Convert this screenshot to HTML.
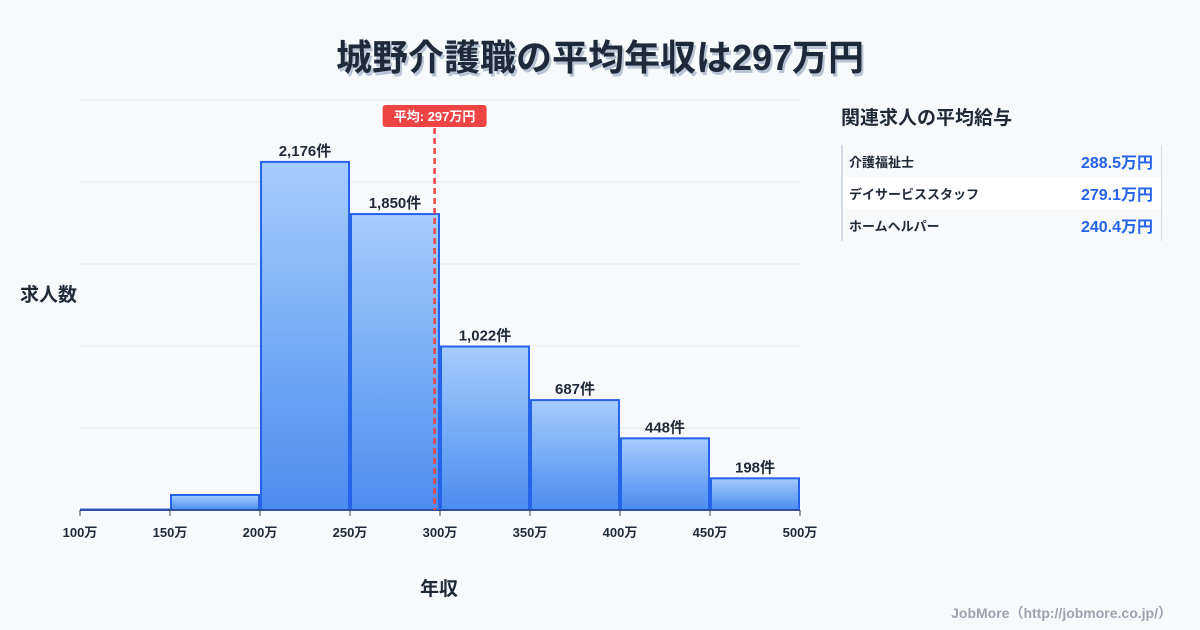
<!DOCTYPE html>
<html><head><meta charset="utf-8">
<style>
body{margin:0;width:1200px;height:630px;background:#f8f9fb;font-family:"Liberation Sans","Noto Sans CJK JP",sans-serif;overflow:hidden;position:relative;color:#1f2937}
.t{position:absolute;font-weight:bold}
</style></head><body>
<div class="t" style="left:0;width:1200px;top:29px;text-align:center;font-size:36px;color:#1e293b;text-shadow:2px 3px 0 #b8c4d6">城野介護職の平均年収は297万円</div>
<div class="t" style="left:20px;top:280px;font-size:19px">求人数</div>
<div class="t" style="left:420px;top:574px;font-size:19px">年収</div>
<svg id="c" width="1200" height="630" style="position:absolute;left:0;top:0">
<defs><linearGradient id="g" x1="0" y1="0" x2="0" y2="1"><stop offset="0" stop-color="#a5cdfc"/><stop offset="1" stop-color="#4b8cf0"/></linearGradient></defs>
</svg>
<div class="t" style="left:841px;top:103px;font-size:19px">関連求人の平均給与</div>
<div style="position:absolute;left:841px;top:145px;width:318px;height:96px;border-left:2px solid #d4dbe5;border-right:1px solid #d4dbe5">
<div style="height:32px;display:flex;justify-content:space-between;align-items:center;padding:0 8px 0 6px;font-weight:bold;font-size:13px"><span>介護福祉士</span><span style="color:#2563eb;font-size:16px">288.5万円</span></div>
<div style="height:32px;display:flex;justify-content:space-between;align-items:center;padding:0 8px 0 6px;font-weight:bold;font-size:13px;background:#fff"><span>デイサービススタッフ</span><span style="color:#2563eb;font-size:16px">279.1万円</span></div>
<div style="height:32px;display:flex;justify-content:space-between;align-items:center;padding:0 8px 0 6px;font-weight:bold;font-size:13px"><span>ホームヘルパー</span><span style="color:#2563eb;font-size:16px">240.4万円</span></div>
</div>
<div class="t" style="right:28px;top:603px;font-size:14px;color:#9ca3af">JobMore（http://jobmore.co.jp/）</div>
<script>
const binStarts=[100,150,200,250,300,350,400,450];
const counts=[3,94,2176,1850,1022,687,448,198];
const labels=["","","2,176件","1,850件","1,022件","687件","448件","198件"];
const xTicks=[100,150,200,250,300,350,400,450,500];
const meanValue=297;
const meanLabel="平均: 297万円";
const yMax=2563;
const svg=document.getElementById('c');const NS='http://www.w3.org/2000/svg';
const X=v=>80+(v-100)*1.8, Y=v=>510-v/yMax*410;
function mk(t,a,p){const e=document.createElementNS(NS,t);for(const k in a)e.setAttribute(k,a[k]);(p||svg).appendChild(e);return e;}
for(let i=0;i<=5;i++){const l=mk('line',{x1:80,x2:800,y1:Y(yMax*i/5),y2:Y(yMax*i/5),stroke:'#e5e7eb'});

}
binStarts.forEach((s,i)=>{const x0=X(s)+1,x1=X(s+50)-1,y=Y(counts[i]);
const r=mk('rect',{x:x0,y:y,width:x1-x0,height:510-y,fill:'url(#g)',stroke:'#2563eb','stroke-width':2});


if(labels[i]){const t=mk('text',{x:(x0+x1)/2,y:y-6,'text-anchor':'middle','font-size':15,'font-weight':'bold',fill:'#1f2937'});t.textContent=labels[i];

}});
const ax=mk('line',{x1:80,x2:800,y1:510,y2:510,stroke:'#374151'});


xTicks.forEach(v=>{mk('line',{x1:X(v),x2:X(v),y1:510,y2:516,stroke:'#374151'});
const t=mk('text',{x:X(v),y:537,'text-anchor':'middle','font-size':13,'font-weight':'bold',fill:'#1f2937'});t.textContent=v+'万';

});
const mx=X(meanValue);
const ml=mk('line',{x1:mx,x2:mx,y1:128,y2:510,stroke:'#ef4444','stroke-width':2.5,'stroke-dasharray':'6,4'});


const mb=mk('rect',{x:mx-52,y:105,width:104,height:22,rx:3,fill:'#ef4444'});


const mt=mk('text',{x:mx,y:121,'text-anchor':'middle','font-size':13,'font-weight':'bold',fill:'#fff'});mt.textContent=meanLabel;


</script>
</body></html>
